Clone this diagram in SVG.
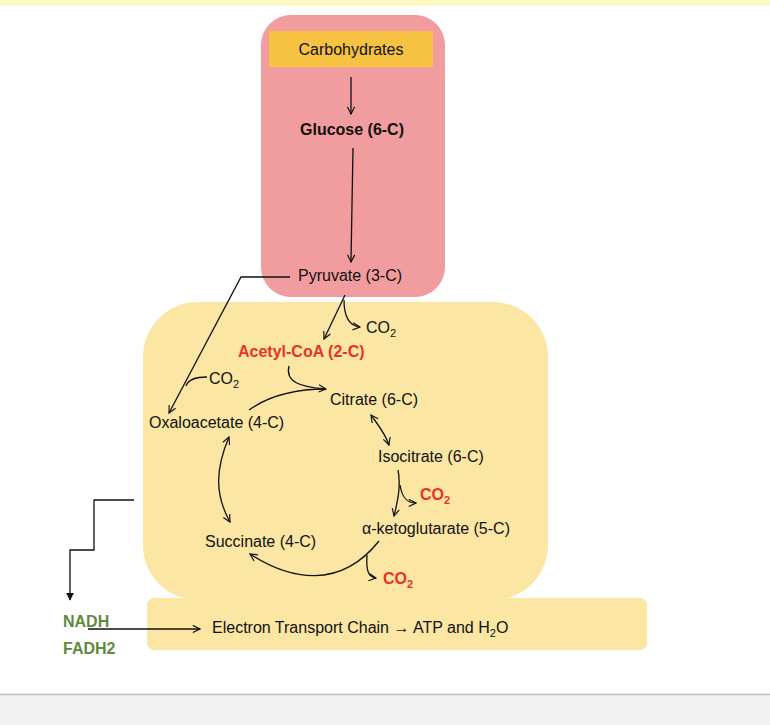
<svg xmlns="http://www.w3.org/2000/svg" width="770" height="725" viewBox="0 0 770 725">
<style>
text{font-family:"Liberation Sans",Arial,sans-serif;font-size:16px;fill:#111}
.r{fill:#e8332a;font-weight:bold}
.g{fill:#5f8a3e;font-weight:bold}
.c path,.c line,.c polyline{fill:none;stroke:#111;stroke-width:1.3}
</style>
<defs>
<marker id="o" viewBox="0 0 10 10" refX="9" refY="5" markerWidth="9" markerHeight="9" orient="auto-start-reverse" markerUnits="userSpaceOnUse"><path d="M1,1 L9,5 L1,9" fill="none" stroke="#111" stroke-width="1.3"/></marker>
<marker id="f" viewBox="0 0 10 10" refX="9" refY="5" markerWidth="8" markerHeight="8" orient="auto" markerUnits="userSpaceOnUse"><path d="M0,0 L10,5 L0,10z" fill="#111"/></marker>
</defs>
<rect x="0" y="0" width="770" height="6" fill="#fcf8c4"/>
<rect x="0" y="694" width="770" height="31" fill="#f2f2f2"/>
<line x1="0" y1="694.5" x2="770" y2="694.5" stroke="#c0c0c0" stroke-width="1.5"/>
<g id="glycolysis"><rect x="261" y="15" width="184" height="282" rx="30" fill="#f19c9f"/></g>
<g id="krebs"><rect x="143" y="302" width="405" height="298" rx="55" fill="#fbe6a3"/></g>
<g id="etc"><rect x="147" y="598" width="500" height="52" rx="7" fill="#fbe6a3"/>
<text x="212" y="633">Electron Transport Chain → ATP and H<tspan font-size="11" dy="4">2</tspan><tspan dy="-4">O</tspan></text></g>
<g id="carbohydrates"><rect x="269" y="31" width="164" height="36" fill="#f5c242"/><text x="351" y="55" text-anchor="middle">Carbohydrates</text></g>
<g id="glucose"><text x="352" y="135" text-anchor="middle" font-weight="bold">Glucose (6-C)</text></g>
<g id="pyruvate"><text x="298" y="281">Pyruvate (3-C)</text></g>
<g id="co2a"><text x="366" y="333">CO<tspan font-size="11" dy="4">2</tspan></text></g>
<g id="acetyl"><text class="r" x="238" y="357">Acetyl-CoA (2-C)</text></g>
<g id="co2b"><text x="209" y="384">CO<tspan font-size="11" dy="4">2</tspan></text></g>
<g id="citrate"><text x="330" y="405">Citrate (6-C)</text></g>
<g id="oxaloacetate"><text x="149" y="428">Oxaloacetate (4-C)</text></g>
<g id="isocitrate"><text x="378" y="462">Isocitrate (6-C)</text></g>
<g id="co2c"><text class="r" x="420" y="500">CO<tspan font-size="11" dy="4">2</tspan></text></g>
<g id="aketo"><text x="362" y="534">α-ketoglutarate (5-C)</text></g>
<g id="succinate"><text x="205" y="547">Succinate (4-C)</text></g>
<g id="co2d"><text class="r" x="383" y="584">CO<tspan font-size="11" dy="4">2</tspan></text></g>
<g id="nadh"><text class="g" x="63" y="627">NADH</text><text class="g" x="63" y="654">FADH2</text></g>
<g class="c" id="connectors">
<line x1="351" y1="77" x2="351" y2="114" marker-end="url(#o)"/>
<line x1="353" y1="148" x2="351" y2="262" marker-end="url(#o)"/>
<polyline points="290,277 241,277 169,413" marker-end="url(#o)"/>
<path d="M207,377 C195,377 188,380 186,386"/>
<line x1="345" y1="295" x2="324" y2="339" marker-end="url(#o)"/>
<path d="M344,300 C344,318 350,326 360,327" marker-end="url(#o)"/>
<path d="M289,366 C285,382 300,387 326,389" marker-end="url(#o)"/>
<path d="M249,410 C270,395 295,389 326,389"/>
<path d="M371,415 C378,425 385,433 389,445" marker-start="url(#o)" marker-end="url(#o)"/>
<path d="M398,470 C401,485 398,500 394,516" marker-end="url(#o)"/>
<path d="M400,485 C402,498 407,503 416,503" marker-end="url(#o)"/>
<path d="M379,541 C340,590 290,580 250,554" marker-end="url(#o)"/>
<path d="M367,555 C366,570 368,577 376,578" marker-end="url(#o)"/>
<path d="M229,437 C215,470 215,495 230,522" marker-start="url(#o)" marker-end="url(#o)"/>
<polyline points="134,500 94,500 94,550 70,550 70,600" stroke-width="1" marker-end="url(#f)"/>
<line x1="88" y1="629" x2="200" y2="629" stroke-width="1" marker-end="url(#o)"/>
</g>
</svg>
